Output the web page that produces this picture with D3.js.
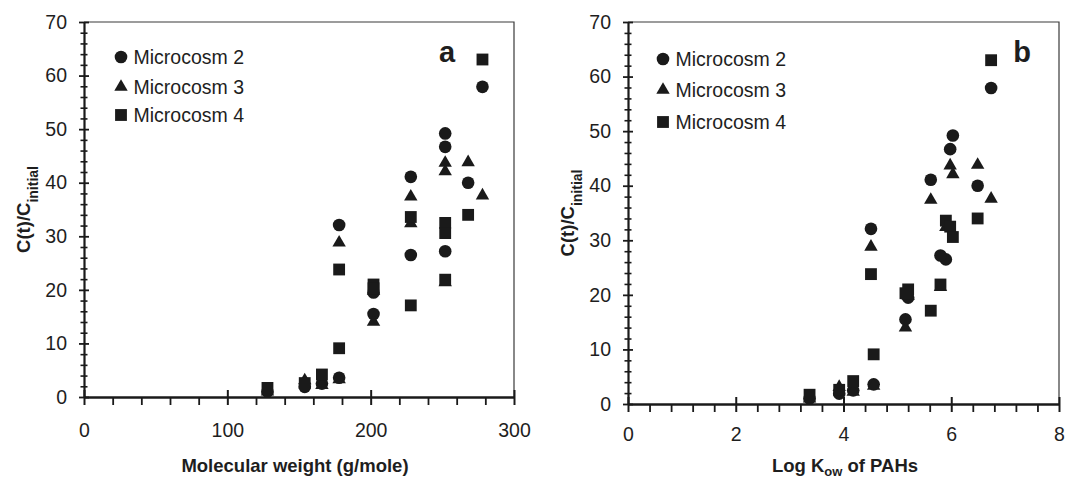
<!DOCTYPE html>
<html>
<head>
<meta charset="utf-8">
<script src="https://cdn.jsdelivr.net/npm/d3@7"></script>
<style>
  body { margin: 0; background: #fff; }
  text { font-family: "Liberation Sans", Arial, sans-serif; fill: #1e1e1e; }
</style>
</head>
<body>
<div id="chart"></div>
<script>
// x values: molecular weight (panel a) and log Kow (panel b) for each PAH
var molWeight = [128, 154, 166, 178, 178, 202, 202, 228, 228, 252, 252, 252, 268, 278];
var logKow = [3.37, 3.92, 4.18, 4.51, 4.56, 5.2, 5.15, 5.62, 5.9, 5.8, 5.98, 6.03, 6.49, 6.74];

// C(t)/C_initial per microcosm
var micro2 = [1.0, 1.9, 2.5, 32.1, 3.6, 19.5, 15.5, 41.1, 26.5, 27.2, 46.7, 49.2, 40.0, 57.9];
var micro3 = [1.0, 3.1, 2.2, 28.8, 3.3, 19.8, 14.0, 37.4, 32.4, 21.4, 43.7, 42.1, 43.8, 37.6];
var micro4 = [1.7, 2.6, 4.2, 23.8, 9.1, 21.0, 20.3, 17.1, 33.6, 21.9, 32.5, 30.6, 34.0, 63.0];

var seriesNames = ["Microcosm 2", "Microcosm 3", "Microcosm 4"];
var yTicks = [0, 10, 20, 30, 40, 50, 60, 70];
var mwTicks = [0, 100, 200, 300];
var kowTicks = [0, 2, 4, 6, 8];

var width = 1065;
var height = 480;
var ink = "#1a1a1a";

var svg = d3.select("#chart")
  .append("svg")
  .attr("width", width)
  .attr("height", height);

// circle = M2, triangle = M3, square = M4
var series = [
  { name: seriesNames[0], values: micro2, shape: d3.symbolCircle, size: 125 },
  { name: seriesNames[1], values: micro3, shape: d3.symbolTriangle, size: 78 },
  { name: seriesNames[2], values: micro4, shape: d3.symbolSquare, size: 140 }
];

var panels = [
  {
    xs: molWeight, xTicks: mwTicks, xMax: 300, minorStep: 20,
    left: 84, right: 514, top: 22, bottom: 397,
    labelPad: 18, letter: "a", letterX: 447,
    legendX: 121, legendY: [57, 87, 115],
    xTitle: "Molecular weight (g/mole)", xTitleX: 295, xTitleY: 472,
    yLabelX: 30
  },
  {
    xs: logKow, xTicks: kowTicks, xMax: 8, minorStep: 0.4,
    left: 628, right: 1059, top: 22, bottom: 404,
    labelPad: 15, letter: "b", letterX: 1022,
    legendX: 663, legendY: [59, 90, 122],
    xTitle: "Log K", xTitleX: 845, xTitleY: 472,
    yLabelX: 574
  }
];

panels.forEach(function(p) {
  var x = d3.scaleLinear().domain([0, p.xMax]).range([p.left, p.right]);
  var y = d3.scaleLinear().domain([0, 70]).range([p.bottom, p.top]);
  var g = svg.append("g");

  // thin frame on top and right
  g.append("path")
    .attr("d", "M" + p.left + "," + p.top + "H" + p.right + "V" + p.bottom)
    .attr("fill", "none")
    .attr("stroke", "#3a3a3a")
    .attr("stroke-width", 1.2);

  // minor y ticks, every 2
  var yMinor = d3.range(0, 70.01, 2).filter(function(v) { return v % 10 !== 0; });
  var yMinorAxis = g.append("g")
    .attr("transform", "translate(" + p.left + ",0)")
    .call(d3.axisLeft(y).tickValues(yMinor).tickSize(3.5).tickFormat(""));
  yMinorAxis.select(".domain").remove();
  yMinorAxis.selectAll(".tick line").attr("x1", 3.5).attr("stroke-width", 1.6).attr("stroke", ink);

  // major y ticks with labels
  var yAxis = g.append("g")
    .attr("transform", "translate(" + p.left + ",0)")
    .call(d3.axisLeft(y).tickValues(yTicks).tickSize(5).tickPadding(12).tickSizeOuter(0));
  yAxis.select(".domain").attr("stroke", ink).attr("stroke-width", 2.2);
  yAxis.selectAll(".tick line").attr("x1", 5).attr("stroke-width", 1.8).attr("stroke", ink);
  yAxis.selectAll(".tick text").attr("font-family", null).style("font-size", "19.5px").attr("fill", "#222");

  // minor x ticks
  var xMinor = d3.range(0, p.xMax + 1e-6, p.minorStep).filter(function(v) {
    return p.xTicks.every(function(t) { return Math.abs(t - v) > 1e-6; });
  });
  var xMinorAxis = g.append("g")
    .attr("transform", "translate(0," + p.bottom + ")")
    .call(d3.axisBottom(x).tickValues(xMinor).tickSize(8).tickFormat(""));
  xMinorAxis.select(".domain").remove();
  xMinorAxis.selectAll(".tick line").attr("stroke-width", 1.8).attr("stroke", ink);

  // major x ticks with labels
  var xAxis = g.append("g")
    .attr("transform", "translate(0," + p.bottom + ")")
    .call(d3.axisBottom(x).tickValues(p.xTicks).tickSize(8).tickPadding(p.labelPad).tickSizeOuter(0));
  xAxis.select(".domain").attr("stroke", ink).attr("stroke-width", 2.6);
  xAxis.selectAll(".tick line").attr("y1", -7).attr("stroke-width", 2).attr("stroke", ink);
  xAxis.selectAll(".tick text").attr("font-family", null).style("font-size", "19.5px").attr("fill", "#222");

  // data markers
  series.forEach(function(s) {
    g.append("g")
      .selectAll("path")
      .data(s.values)
      .join("path")
      .attr("d", d3.symbol().type(s.shape).size(s.size))
      .attr("transform", function(d, i) {
        return "translate(" + x(p.xs[i]) + "," + y(d) + ")";
      })
      .attr("fill", ink);
  });

  // legend
  series.forEach(function(s, i) {
    g.append("path")
      .attr("d", d3.symbol().type(s.shape).size(s.size)())
      .attr("transform", "translate(" + p.legendX + "," + p.legendY[i] + ")")
      .attr("fill", ink);
    g.append("text")
      .attr("x", p.legendX + 12.5)
      .attr("y", p.legendY[i])
      .attr("dy", "0.36em")
      .style("font-size", "19.5px")
      .text(s.name);
  });

  // panel letter
  g.append("text")
    .attr("x", p.letterX)
    .attr("y", 62)
    .attr("text-anchor", "middle")
    .style("font-size", "29px")
    .style("font-weight", "bold")
    .text(p.letter);

  // x title
  var xt = g.append("text")
    .attr("x", p.xTitleX)
    .attr("y", p.xTitleY)
    .attr("text-anchor", "middle")
    .style("font-size", "18.5px")
    .style("font-weight", "bold")
    .text(p.xTitle);
  if (p.letter === "b") {
    xt.append("tspan").attr("dy", 4).style("font-size", "13px").text("ow");
    xt.append("tspan").attr("dy", -4).text(" of PAHs");
  }

  // y title
  var yt = g.append("text")
    .attr("transform", "translate(" + p.yLabelX + "," + ((p.top + p.bottom) / 2) + ") rotate(-90)")
    .attr("text-anchor", "middle")
    .style("font-size", "18.5px")
    .style("font-weight", "bold")
    .text("C(t)/C");
  yt.append("tspan").attr("baseline-shift", "sub").style("font-size", "14px").text("initial");
});
</script>
</body>
</html>
